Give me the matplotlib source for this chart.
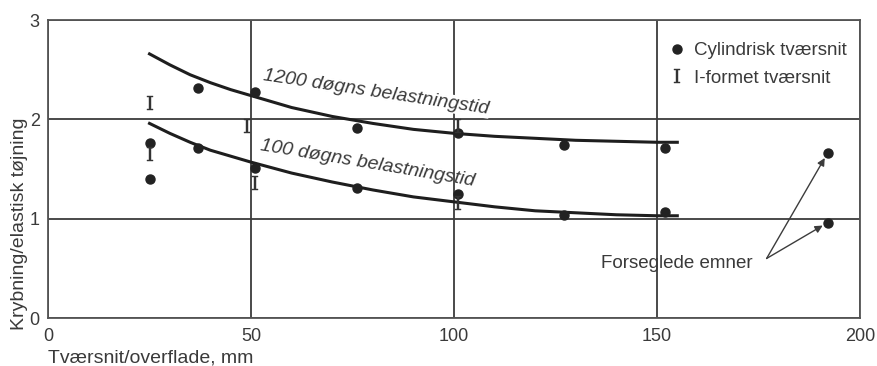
import matplotlib

matplotlib.use("Agg")

import matplotlib.pyplot as plt

plt.rcParams["font.family"] = ["Liberation Sans", "DejaVu Sans"]
plt.rcParams["mathtext.fontset"] = "dejavuserif"

# fitted curves
curve_x = [25, 30, 35, 40, 45, 50, 60, 70, 80, 90, 100, 110, 120, 130, 140, 150, 155]
curve_1200 = [2.66, 2.55, 2.45, 2.37, 2.30, 2.24, 2.12, 2.03, 1.96, 1.90, 1.86,
              1.83, 1.81, 1.79, 1.78, 1.77, 1.77]
curve_100 = [1.96, 1.86, 1.77, 1.69, 1.63, 1.57, 1.46, 1.37, 1.29, 1.22, 1.17,
             1.12, 1.08, 1.06, 1.04, 1.03, 1.03]

# cylindrical specimens
cyl_x = [25, 25, 37, 37, 51, 51, 76, 76, 101, 101, 127, 127, 152, 152]
cyl_y = [1.76, 1.40, 2.32, 1.71, 2.28, 1.51, 1.91, 1.31, 1.86, 1.25, 1.74, 1.04, 1.71, 1.07]

# I-shaped specimens
ibeam_x = [25, 25, 49, 51, 101, 101]
ibeam_y = [2.17, 1.65, 1.93, 1.36, 1.93, 1.16]

# sealed specimens
sealed_x = [192, 192]
sealed_y = [1.66, 0.96]

LINE = "#3c3c3c"
TEXT = "#3a3a3a"

fig = plt.figure(figsize=(8.78, 3.66), dpi=100)
ax = fig.add_axes([0.0547, 0.131, 0.9248, 0.814])

ax.plot(curve_x, curve_1200, color="#1e1e1e", lw=2.2, zorder=3)
ax.plot(curve_x, curve_100, color="#1e1e1e", lw=2.2, zorder=3)

ax.plot(cyl_x + sealed_x, cyl_y + sealed_y, "o", color="#222222", ms=6.5,
        ls="none", zorder=4, label="Cylindrisk tværsnit")
ax.plot(ibeam_x, ibeam_y, marker=r"$\mathrm{I}$", color="#333333", ms=10,
        mew=0.3, ls="none", zorder=4, label="I-formet tværsnit")

ax.text(80.8, 2.27, "1200 døgns belastningstid", style="italic", fontsize=14,
        color=TEXT, rotation=-8.5, ha="center", va="center", zorder=5,
        bbox=dict(facecolor="white", edgecolor="none", pad=0.5))
ax.text(78.8, 1.56, "100 døgns belastningstid", style="italic", fontsize=14,
        color=TEXT, rotation=-9.5, ha="center", va="center", zorder=5)

arrow = dict(arrowstyle="-|>", color=LINE, lw=1.0, mutation_scale=11,
             shrinkA=0, shrinkB=4)
ax.text(173.5, 0.55, "Forseglede emner", fontsize=13.5, color=TEXT,
        ha="right", va="center")
ax.annotate("", xy=(sealed_x[0], sealed_y[0]), xytext=(177, 0.60),
            arrowprops=arrow)
ax.annotate("", xy=(sealed_x[1], sealed_y[1]), xytext=(177, 0.60),
            arrowprops=arrow)

ax.set_xlim(0, 200)
ax.set_ylim(0, 3)
ax.set_xticks([0, 50, 100, 150, 200])
ax.set_yticks([0, 1, 2, 3])
ax.tick_params(length=0, labelsize=13, labelcolor=TEXT)
ax.tick_params(axis="x", pad=7)
ax.tick_params(axis="y", pad=6)
ax.grid(True, color=LINE, lw=1.3)
for spine in ax.spines.values():
    spine.set_color("#555555")
    spine.set_linewidth(1.3)

ax.set_xlabel("Tværsnit/overflade, mm", fontsize=14, color=TEXT, loc="left")
ax.xaxis.set_label_coords(0.0, -0.104)
ax.set_ylabel("Krybning/elastisk tøjning", fontsize=14, color=TEXT, loc="bottom")
ax.yaxis.set_label_coords(-0.025, -0.04)

ax.legend(loc="upper right", frameon=False, fontsize=13.5, labelcolor=TEXT,
          handlelength=0.8, handletextpad=0.5, borderaxespad=0.3,
          labelspacing=0.55, bbox_to_anchor=(1.0, 0.97))

fig.savefig("out.png", dpi=100)
